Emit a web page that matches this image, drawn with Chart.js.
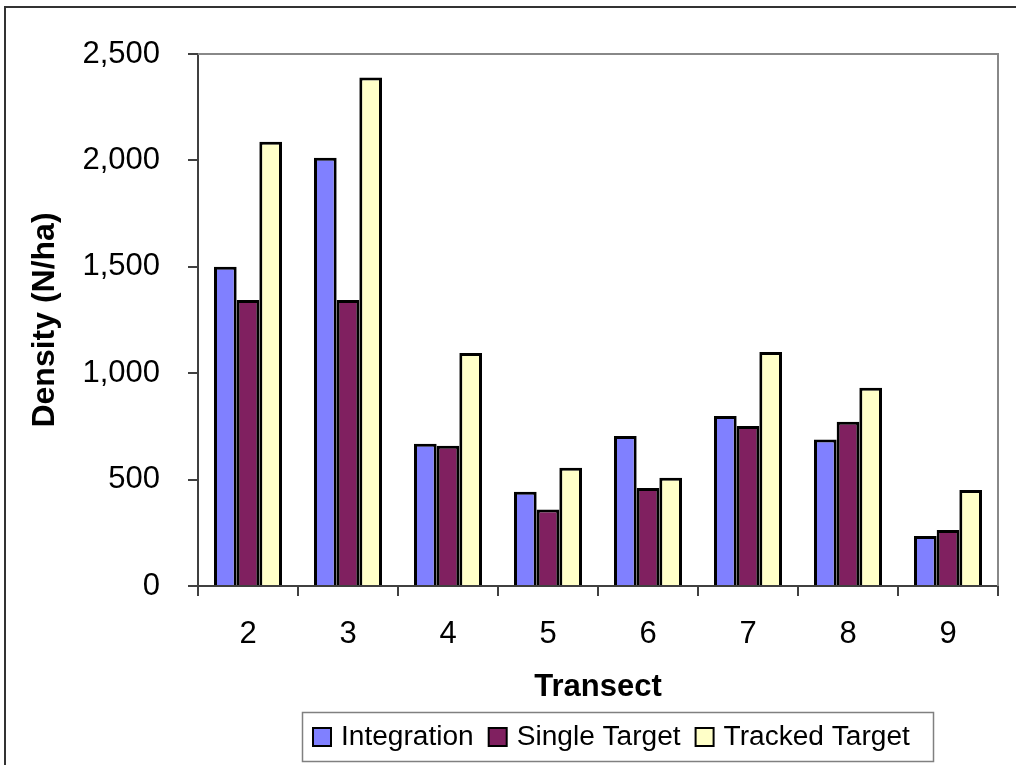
<!DOCTYPE html>
<html lang="en">
<head>
  <meta charset="UTF-8" />
  <title>Density by Transect</title>
  <script src="https://cdn.jsdelivr.net/npm/chart.js"></script>
  <style>
    * { margin: 0; padding: 0; box-sizing: border-box; }
    body { background: #fff; width: 1016px; height: 765px; overflow: hidden; }
    .wrap { position: relative; width: 1016px; height: 765px; }
  </style>
</head>
<body>
  <div class="wrap">
    <canvas id="densityChart" width="1016" height="765"></canvas>
  </div>

  <script>
    // Transects and density estimates (N/ha) per method
    const transects = ['2', '3', '4', '5', '6', '7', '8', '9'];
    const integration = [1500, 2013, 669, 443, 705, 799, 688, 235];
    const singleTarget = [1344, 1344, 659, 359, 460, 752, 772, 263];
    const trackedTarget = [2088, 2389, 1095, 556, 509, 1100, 932, 451];
    const seriesNames = ['Integration', 'Single Target', 'Tracked Target'];
    const seriesColors = ['#8080ff', '#802060', '#ffffc8'];

    const FONT = "'Liberation Sans', Arial, sans-serif";
    const AXIS = '#404040';

    // Gray frame on the top and right of the plot, outer border, and legend box
    const decorations = {
      id: 'decorations',
      afterDraw(chart) {
        const { ctx, chartArea: a } = chart;
        ctx.save();

        ctx.strokeStyle = '#888';
        ctx.lineWidth = 2;
        ctx.beginPath();
        ctx.moveTo(a.left, a.top);
        ctx.lineTo(a.right, a.top);
        ctx.lineTo(a.right, a.bottom);
        ctx.stroke();

        ctx.strokeStyle = '#333';
        ctx.lineWidth = 2;
        ctx.beginPath();
        ctx.moveTo(5, 765);
        ctx.lineTo(5, 7);
        ctx.lineTo(1016, 7);
        ctx.stroke();

        // legend
        ctx.strokeStyle = '#808080';
        ctx.lineWidth = 1.5;
        ctx.strokeRect(302.5, 712.5, 631, 49);

        ctx.font = '27px ' + FONT;
        ctx.textBaseline = 'middle';
        const stretch = 1.04;
        let x = 313;
        seriesNames.forEach((name, i) => {
          ctx.fillStyle = seriesColors[i];
          ctx.fillRect(x, 728, 18, 18);
          ctx.strokeStyle = '#000';
          ctx.lineWidth = 2;
          ctx.strokeRect(x, 728, 18, 18);
          x += 28;
          const w = ctx.measureText(name).width * stretch;
          ctx.save();
          ctx.translate(x, 738);
          ctx.scale(stretch, 1);
          ctx.fillStyle = '#000';
          ctx.fillText(name, 0, 0);
          ctx.restore();
          x += w + 15;
        });

        ctx.restore();
      }
    };

    new Chart(document.getElementById('densityChart'), {
      type: 'bar',
      data: {
        labels: transects,
        datasets: [
          { label: seriesNames[0], data: integration, backgroundColor: seriesColors[0] },
          { label: seriesNames[1], data: singleTarget, backgroundColor: seriesColors[1] },
          { label: seriesNames[2], data: trackedTarget, backgroundColor: seriesColors[2] }
        ].map(d => Object.assign(d, { borderColor: '#000', borderWidth: 3 }))
      },
      options: {
        responsive: false,
        animation: false,
        devicePixelRatio: 1,
        categoryPercentage: 0.68,
        barPercentage: 1.0,
        layout: { padding: { left: 0, right: 18, top: 54, bottom: 59 } },
        plugins: {
          legend: { display: false },
          tooltip: { enabled: false }
        },
        scales: {
          x: {
            afterFit(scale) { scale.height = 120; },
            grid: { drawOnChartArea: false, tickLength: 10, color: AXIS, lineWidth: 2, offset: true },
            border: { color: AXIS, width: 2 },
            ticks: { color: '#000', padding: 20, font: { family: FONT, size: 31 } },
            title: {
              display: true, text: 'Transect', color: '#000',
              font: { family: FONT, size: 31, weight: 'bold' },
              padding: { top: 0, bottom: 0 }
            }
          },
          y: {
            min: 0,
            max: 2500,
            afterFit(scale) { scale.width = 198; },
            grid: { drawOnChartArea: false, tickLength: 10, color: AXIS, lineWidth: 2 },
            border: { color: AXIS, width: 2 },
            ticks: {
              stepSize: 500, color: '#000', padding: 28,
              font: { family: FONT, size: 31 },
              callback: v => v.toLocaleString('en-US')
            },
            title: {
              display: true, text: 'Density (N/ha)', color: '#000',
              font: { family: FONT, size: 32, weight: 'bold' },
              padding: { top: 26, bottom: 0 }
            }
          }
        }
      },
      plugins: [decorations]
    });
  </script>
</body>
</html>
